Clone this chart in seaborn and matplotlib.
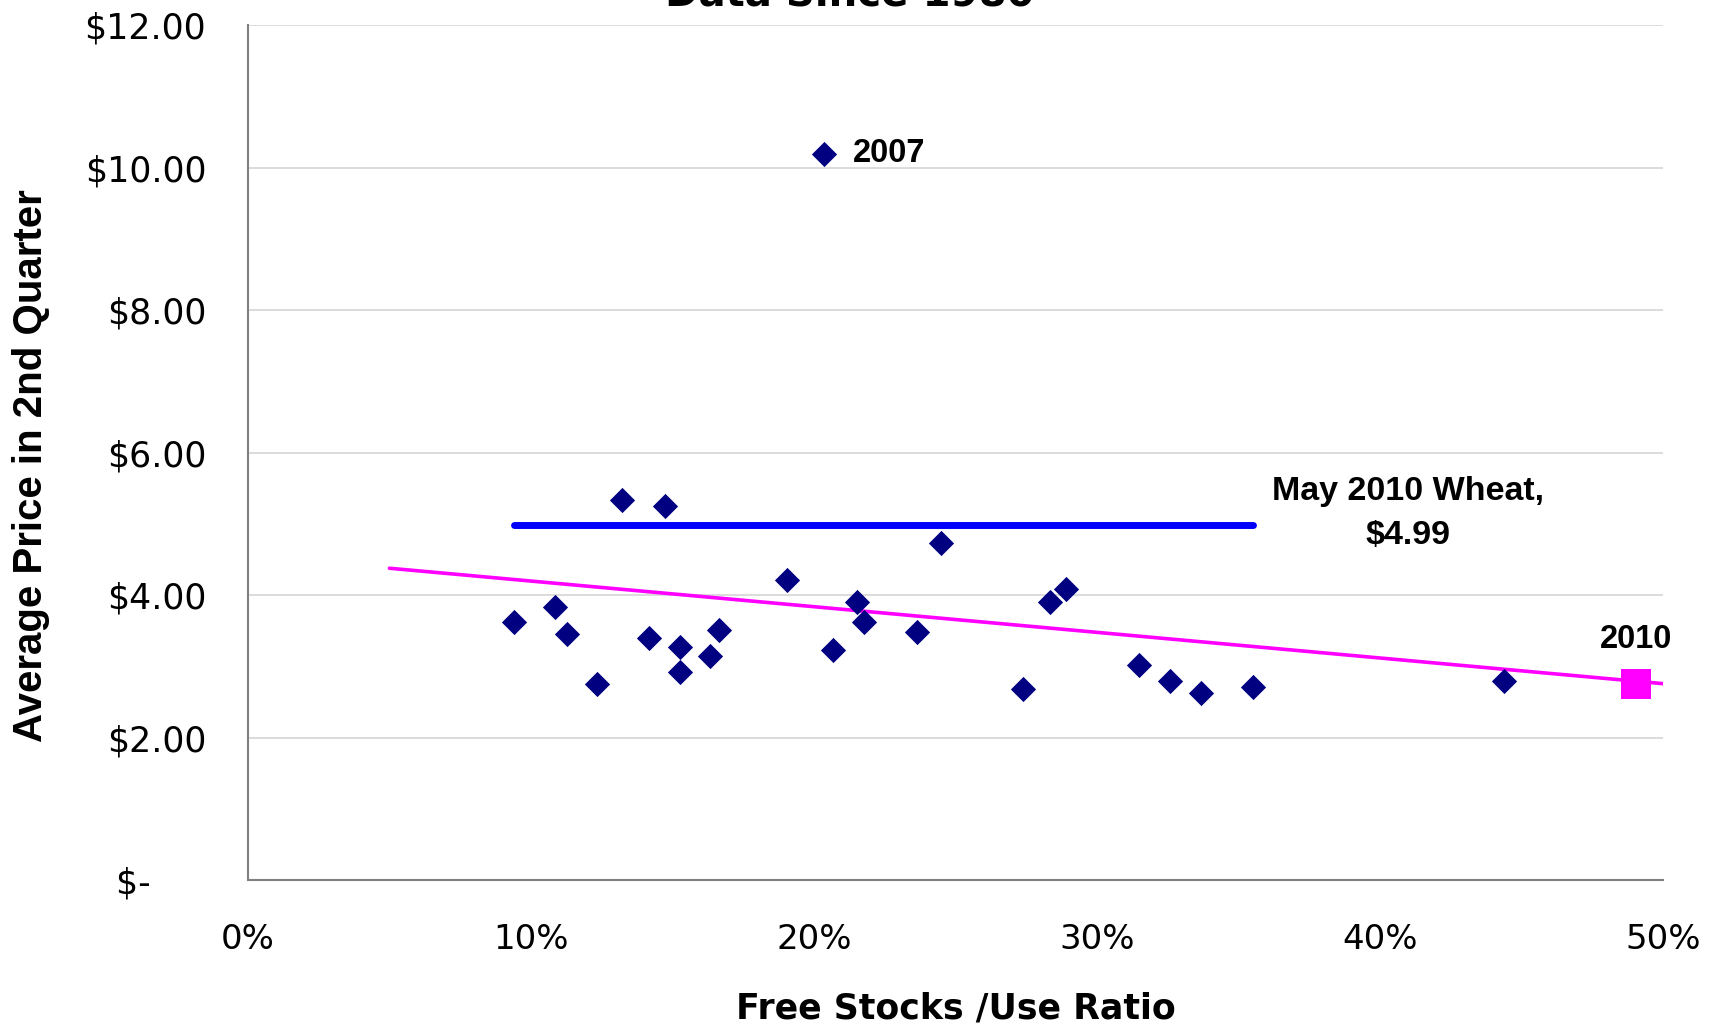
import matplotlib
matplotlib.use("Agg")
import matplotlib.pyplot as plt
import seaborn as sns
from matplotlib.ticker import FuncFormatter

# free stocks / use ratio (%) and average 2nd quarter price ($)
stocks_use = [9.41, 10.84, 11.27, 12.32, 13.21, 14.17, 14.72, 15.26, 15.26, 16.34,
              16.65, 19.05, 20.37, 20.68, 21.53, 21.77, 23.63, 24.48, 27.38, 28.35,
              28.89, 31.49, 32.57, 33.66, 35.51, 44.38]
avg_price = [3.62, 3.83, 3.45, 2.75, 5.34, 3.40, 5.25, 3.28, 2.92, 3.15,
             3.52, 4.22, 10.20, 3.23, 3.91, 3.62, 3.48, 4.74, 2.68, 3.91,
             4.09, 3.02, 2.80, 2.63, 2.71, 2.80]

# 2010 point
pt2010_x = [49.03]
pt2010_y = [2.75]

# May 2010 wheat line
wheat_x = [9.41, 35.51]
wheat_y = [4.99, 4.99]

# trend line
trend_x = [5.0, 50.0]
trend_y = [4.38, 2.76]

y_ticks = [0, 2, 4, 6, 8, 10, 12]
x_ticks = [0, 10, 20, 30, 40, 50]

sns.set_style("white")
plt.rcParams['font.family'] = ['DejaVu Sans']
plt.rcParams['text.color'] = 'black'
plt.rcParams['xtick.labelcolor'] = 'black'
plt.rcParams['ytick.labelcolor'] = 'black'

fig = plt.figure(figsize=(17.19, 10.30), dpi=100)
ax = fig.add_axes([0.1442, 0.1453, 0.8233, 0.8302])

ax.yaxis.grid(True, color='#d9d9d9', linewidth=1.3)
ax.set_axisbelow(True)

sns.lineplot(x=trend_x, y=trend_y, color='#ff00ff', linewidth=2.6, ax=ax)
sns.lineplot(x=wheat_x, y=wheat_y, color='#0000ff', linewidth=5,
             solid_capstyle='round', ax=ax)
sns.scatterplot(x=stocks_use, y=avg_price, marker='D', color='#000080',
                s=165, linewidth=0, ax=ax, zorder=5)
sns.scatterplot(x=pt2010_x, y=pt2010_y, marker='s', color='#ff00ff',
                s=440, linewidth=0, ax=ax, zorder=5)

ax.set_xlim(0, 50)
ax.set_ylim(0, 12)
ax.set_xticks(x_ticks)
ax.set_yticks(y_ticks)
ax.xaxis.set_major_formatter(FuncFormatter(lambda v, p: f"{v:.0f}%"))
ax.yaxis.set_major_formatter(
    FuncFormatter(lambda v, p: "$-     " if v == 0 else f"${v:.2f}"))

for s in ['top', 'right']:
    ax.spines[s].set_visible(False)
for s in ['left', 'bottom']:
    ax.spines[s].set_color('#808080')
    ax.spines[s].set_linewidth(1.5)

ax.tick_params(axis='y', direction='out', length=8, width=1.2, color='#808080',
               pad=22, labelsize=25, labelcolor='black')
ax.tick_params(axis='x', direction='out', length=7, width=1.2, color='#808080',
               pad=24, labelsize=24.5, labelcolor='black')

ax.set_xlabel("")
ax.set_ylabel("")
fig.text(0.556, 0.021, "Free Stocks /Use Ratio", ha='center', va='center',
         fontsize=25, fontweight='bold', color='black')
fig.text(0.0179, 0.5476, "Average Price in 2nd Quarter", ha='center', va='center',
         rotation=90, fontsize=29, fontweight='bold', color='black',
         family=['Liberation Sans Narrow', 'Liberation Sans'])
fig.text(0.4945, 1 - 6 / 1030, "Data Since 1980", ha='center', va='baseline',
         fontsize=29, fontweight='bold', color='black')

lab = ['Liberation Sans']
ax.text(21.38, 10.2, "2007", ha='left', va='center', fontsize=23.5,
        fontweight='bold', family=lab)
ax.text(49.03, 3.38, "2010", ha='center', va='center', fontsize=23.5,
        fontweight='bold', family=lab)
ax.text(40.98, 5.15, "May 2010 Wheat,\n$4.99", ha='center', va='center',
        fontsize=24.5, fontweight='bold', linespacing=1.55, family=lab)

fig.savefig("out.png", dpi=100)
